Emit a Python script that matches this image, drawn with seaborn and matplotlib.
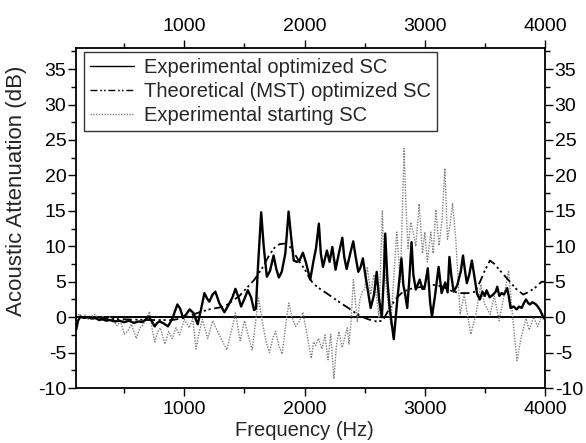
import numpy as np
import pandas as pd
import matplotlib
matplotlib.use("Agg")
import matplotlib.pyplot as plt
import seaborn as sns
from matplotlib.ticker import MultipleLocator, FixedLocator

# ---- data ----
opt_freq = [100, 115, 136, 170, 200, 230, 260, 290, 320, 350, 380, 420, 460, 500, 540, 580, 620,
            650, 680, 703, 730, 753, 775, 794, 830, 864, 900, 942, 965, 989, 1015, 1044, 1075,
            1111, 1135, 1167, 1190, 1208, 1235, 1258, 1290, 1333, 1370, 1400, 1425, 1450, 1472,
            1500, 1528, 1555, 1580, 1595, 1612, 1639, 1660, 1686, 1712, 1742, 1765, 1786, 1810,
            1840, 1867, 1890, 1910, 1935, 1958, 1986, 2010, 2047, 2075, 2095, 2119, 2135, 2153,
            2170, 2186, 2208, 2231, 2258, 2285, 2314, 2330, 2350, 2380, 2405, 2425, 2447, 2465,
            2485, 2505, 2550, 2578, 2600, 2620, 2643, 2660, 2671, 2690, 2708, 2742, 2770, 2806,
            2822, 2833, 2854, 2870, 2890, 2905, 2925, 2958, 2980, 2997, 3025, 3045, 3060, 3085,
            3115, 3140, 3170, 3190, 3205, 3220, 3240, 3270, 3300, 3318, 3335, 3350, 3370, 3392,
            3410, 3435, 3458, 3480, 3500, 3514, 3540, 3569, 3590, 3603, 3620, 3639, 3660, 3686,
            3700, 3714, 3740, 3764, 3785, 3806, 3825, 3842, 3860, 3875, 3895, 3908, 3925, 3940,
            3960, 3985, 4000]
opt_att = [-1.8, -0.5, 0.1, -0.1, 0.0, -0.2, -0.1, -0.4, -0.3, -0.5, -0.4, -0.6, -0.5, -0.7,
           -0.5, -0.8, -0.6, -0.7, -0.3, 0.1, -0.6, -1.3, -0.8, -0.6, -0.9, -1.3, -0.2, 1.8, 1.2,
           -0.1, 0.4, 1.1, 0.6, -1.0, 0.8, 3.4, 2.6, 2.2, 3.2, 3.6, 2.0, 0.7, 1.8, 2.8, 4.0, 2.8,
           1.5, 2.6, 3.8, 2.8, 1.0, 1.2, 7.0, 14.8, 10.0, 5.7, 6.5, 8.7, 6.8, 5.6, 6.4, 9.0, 14.9,
           11.0, 8.0, 7.8, 8.0, 9.1, 7.8, 5.3, 8.0, 9.7, 13.2, 9.0, 7.1, 8.3, 9.4, 7.8, 9.9, 6.7,
           9.0, 11.2, 8.5, 6.8, 9.0, 10.7, 8.5, 6.4, 7.0, 8.3, 6.0, 1.3, 3.2, 6.4, 2.5, 0.0, 6.0,
           11.8, 5.0, 1.3, -3.1, 2.2, 8.3, 4.5, 3.6, 1.3, 5.0, 10.6, 6.0, 3.9, 5.3, 4.0, 4.0, 6.9,
           2.0, 0.1, 3.0, 7.1, 3.4, 4.9, 3.5, 8.5, 6.0, 3.6, 4.5, 6.5, 8.7, 6.5, 4.8, 6.0, 8.0,
           6.0, 3.3, 2.5, 3.6, 3.0, 3.8, 2.8, 3.2, 3.6, 4.3, 3.0, 3.4, 3.2, 4.1, 2.8, 1.3, 1.5,
           1.1, 1.5, 1.3, 2.0, 2.5, 2.0, 1.8, 2.1, 2.0, 1.8, 1.5, 1.0, 0.0, -0.3]

mst_freq = [100, 300, 500, 700, 900, 1000, 1125, 1208, 1333, 1458, 1583, 1650, 1708, 1750, 1792,
            1840, 1875, 1915, 1958, 2000, 2042, 2069, 2111, 2181, 2250, 2319, 2390, 2458, 2530,
            2597, 2650, 2708, 2760, 2819, 2900, 2986, 3061, 3150, 3236, 3300, 3375, 3420, 3460,
            3500, 3542, 3580, 3640, 3708, 3760, 3819, 3870, 3920, 3972, 4000]
mst_att = [0.0, -0.2, -0.3, -0.4, -0.4, -0.1, 0.7, 1.1, 1.5, 3.0, 5.3, 7.0, 8.8, 9.8, 10.3, 10.4,
           10.0, 9.0, 7.8, 6.8, 5.5, 4.8, 4.2, 3.4, 2.6, 1.8, 1.0, 0.2, -0.3, -0.6, -0.5, 1.3, 2.6,
           3.6, 4.1, 4.3, 4.6, 4.3, 3.6, 3.4, 3.4, 3.6, 5.0, 6.6, 8.0, 7.5, 6.3, 5.0, 4.0, 3.2,
           3.6, 4.2, 5.0, 5.0]

start_freq = [100, 125, 150, 175, 200, 225, 260, 290, 320, 350, 380, 410, 440, 470, 500, 527,
              560, 600, 630, 660, 690, 710, 735, 754, 780, 800, 838, 870, 900, 930, 960, 1000,
              1040, 1070, 1097, 1125, 1150, 1194, 1236, 1290, 1353, 1390, 1425, 1464, 1500, 1530,
              1564, 1590, 1617, 1647, 1680, 1708, 1735, 1758, 1785, 1814, 1840, 1869, 1895, 1925,
              1960, 1986, 2020, 2056, 2075, 2092, 2115, 2145, 2170, 2195, 2217, 2244, 2265, 2286,
              2314, 2340, 2356, 2369, 2385, 2406, 2439, 2460, 2481, 2500, 2522, 2550, 2578, 2619,
              2647, 2660, 2675, 2695, 2717, 2740, 2767, 2797, 2828, 2845, 2861, 2883, 2903, 2925,
              2953, 2981, 3000, 3022, 3050, 3070, 3092, 3119, 3145, 3167, 3189, 3210, 3231, 3258,
              3294, 3328, 3383, 3425, 3467, 3494, 3544, 3578, 3619, 3661, 3697, 3731, 3767, 3800,
              3842, 3869, 3905, 3939, 3981, 4000]
start_att = [0.0, 0.5, -0.2, 0.3, -0.3, 0.1, 0.4, -0.5, 0.1, -0.3, 0.0, -0.5, -1.2, -0.6, -2.4,
             -2.0, -1.0, -3.0, -1.5, -1.0, 0.0, 0.8, -2.0, -3.5, -2.0, -1.5, -3.8, -2.0, -3.0,
             -1.5, -2.5, -0.3, -1.5, -0.2, -4.5, -2.0, -0.3, -3.0, -0.5, -2.5, -4.6, -2.0, 0.6,
             -3.3, -0.5, -2.5, -4.6, -1.0, 2.7, -0.5, -3.5, -5.0, -3.0, -2.0, -4.0, -5.2, -1.5,
             2.0, 0.0, -1.3, -0.5, 0.7, -2.5, -5.8, -3.5, -4.0, -3.0, -4.5, -2.5, -6.0, -2.4,
             -8.7, -4.0, -2.0, -4.3, -2.5, -1.5, -3.8, -1.0, 5.3, -0.6, 2.5, 3.6, 4.0, 7.1, 3.2,
             6.0, -0.1, 15.0, 8.0, 5.0, 2.0, -1.0, 5.0, 12.0, 5.0, 23.8, 15.0, 9.7, 13.4, 12.0,
             10.0, 16.0, 9.0, 12.0, 7.8, 12.0, 9.0, 15.2, 10.1, 14.0, 21.0, 11.0, 13.0, 16.0, 11.0,
             0.4, 3.2, -2.4, 0.4, 4.6, 2.0, 0.4, 3.0, -0.5, 3.2, 6.6, 0.0, -6.1, -3.0, -0.2, -1.8,
             0.0, -1.3, 0.5, -0.5]

x_ticks = [1000, 2000, 3000, 4000]
y_ticks = [-10, -5, 0, 5, 10, 15, 20, 25, 30, 35]

labels = ["Experimental optimized SC", "Theoretical (MST) optimized SC", "Experimental starting SC"]

df = pd.concat([
    pd.DataFrame({"f": opt_freq, "a": opt_att, "s": labels[0]}),
    pd.DataFrame({"f": mst_freq, "a": mst_att, "s": labels[1]}),
    pd.DataFrame({"f": start_freq, "a": start_att, "s": labels[2]}),
])

sns.set_theme(style="ticks")
plt.rcParams["font.family"] = ["Liberation Sans", "DejaVu Sans"]
plt.rcParams["axes.unicode_minus"] = False

fig = plt.figure(figsize=(5.86, 4.43), dpi=100)
ax = fig.add_axes([0.130, 0.124, 0.800, 0.768])

ax.axhline(0, color="black", lw=1.4, zorder=1)

styles = {
    labels[0]: dict(color="black", lw=1.7, ls="-"),
    labels[1]: dict(color="black", lw=1.3, ls=(0, (5, 2, 1.2, 1.5, 1.2, 2))),
    labels[2]: dict(color="#808080", lw=1.0, ls=(0, (1, 1))),
}
for lab in [labels[2], labels[1], labels[0]]:
    sub = df[df["s"] == lab]
    sns.lineplot(data=sub, x="f", y="a", ax=ax, estimator=None, sort=False,
                 color=styles[lab]["color"], lw=styles[lab]["lw"], ls=styles[lab]["ls"], label=lab,
                 legend=False)
lines = {l.get_label(): l for l in ax.get_lines()}
leg = ax.legend([lines[l] for l in labels], labels, loc="upper left", bbox_to_anchor=(0.017, 0.988),
                borderaxespad=0, frameon=True, fancybox=False, edgecolor="black", fontsize=14.5,
                handlelength=2.2, borderpad=0.3, labelspacing=0.25, handletextpad=0.45)
leg.get_frame().set_linewidth(1.0)
for lh in leg.get_lines():
    lh.set_linewidth(1.0)

ax.set_xlim(100, 4000)
ax.set_ylim(-10, 38)
ax.xaxis.set_major_locator(FixedLocator(x_ticks))
ax.xaxis.set_minor_locator(FixedLocator([500, 1500, 2500, 3500]))
ax.yaxis.set_major_locator(FixedLocator(y_ticks))
ax.yaxis.set_minor_locator(MultipleLocator(2.5))
ax.tick_params(which="both", direction="out", top=True, right=True, labeltop=True, labelright=True,
               labelsize=14, color="black", labelcolor="black")
ax.tick_params(axis="x", which="both", pad=3)
ax.tick_params(axis="y", which="both", pad=1)
ax.tick_params(which="major", length=6, width=1)
ax.tick_params(which="minor", length=3.5, width=1)
for s in ax.spines.values():
    s.set_visible(True)
    s.set_color("black")
    s.set_linewidth(1.3)
ax.set_xlabel("Frequency (Hz)", fontsize=14.5, labelpad=0)
ax.set_ylabel("Acoustic Attenuation (dB)", fontsize=16, labelpad=0)
ax.xaxis.set_label_coords(0.486, -0.098)
ax.yaxis.set_label_coords(-0.105, 0.58)
ax.set_facecolor("white")
fig.patch.set_facecolor("white")

fig.savefig("out.png", dpi=100)
